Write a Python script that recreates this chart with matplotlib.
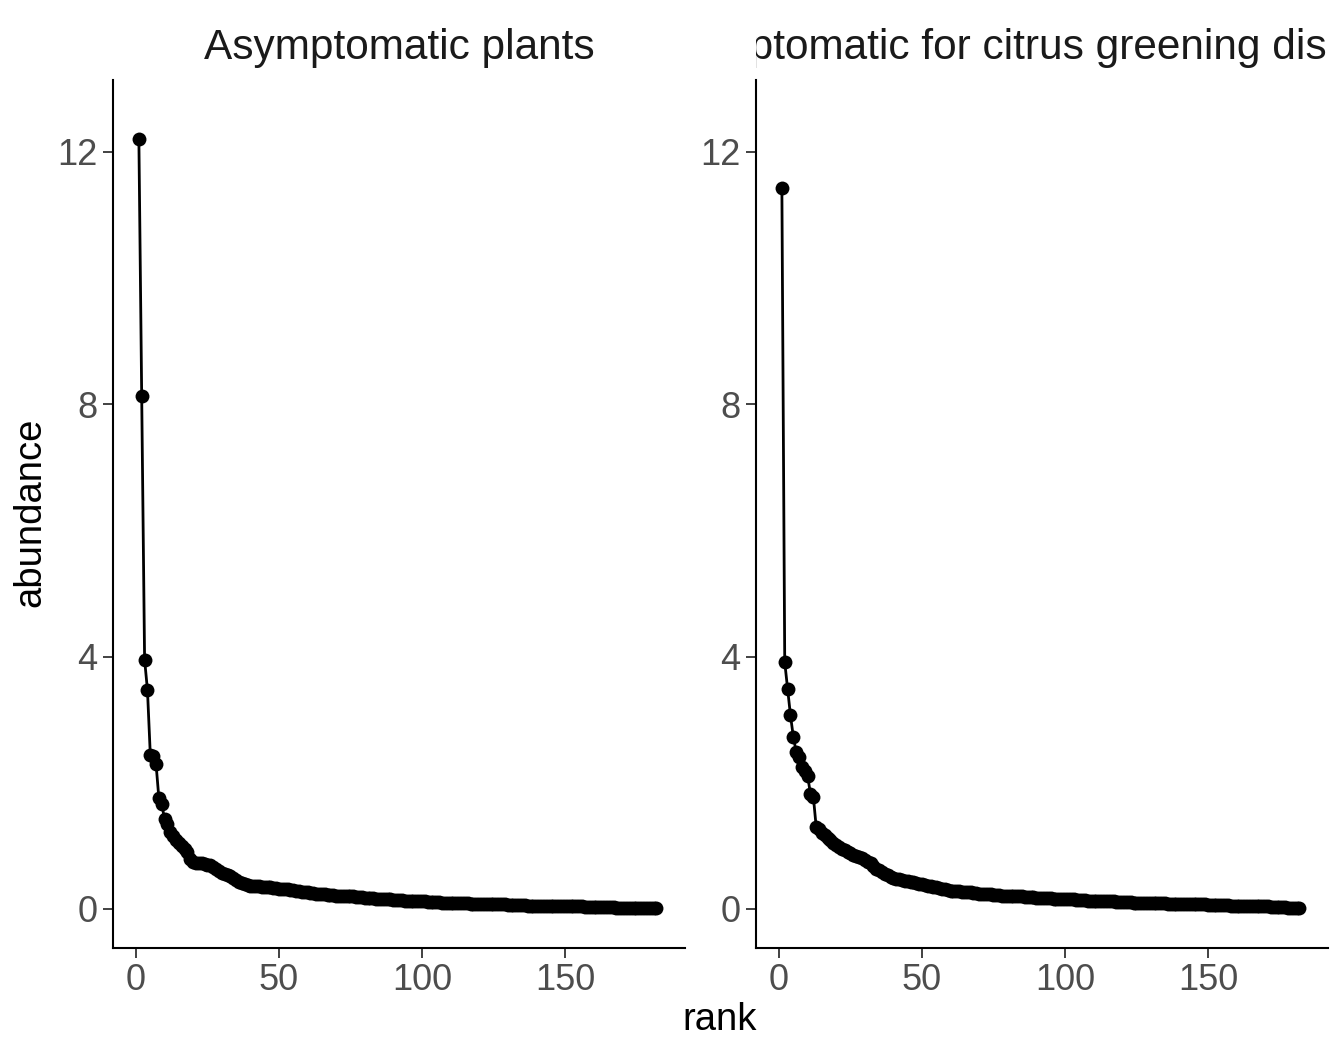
import numpy as np
import matplotlib
matplotlib.use("Agg")
import matplotlib.pyplot as plt

plt.rcParams['font.family'] = ['Liberation Sans', 'DejaVu Sans']

panel_titles = ["Asymptomatic plants", "Symptomatic for citrus greening disease"]

# abundance by rank
asym = [
    12.20, 8.13, 3.95, 3.47, 2.44, 2.42, 2.30, 1.75, 1.66, 1.42,
    1.34, 1.22, 1.16, 1.10, 1.05, 1.00, 0.95, 0.90, 0.79, 0.74,
    0.73, 0.72, 0.72, 0.71, 0.70, 0.69, 0.67, 0.64, 0.60, 0.57,
    0.55, 0.54, 0.52, 0.49, 0.46, 0.43, 0.41, 0.39, 0.38, 0.37,
    0.37, 0.36, 0.36, 0.35, 0.35, 0.34, 0.34, 0.33, 0.33, 0.32,
    0.32, 0.31, 0.31, 0.30, 0.30, 0.29, 0.28, 0.27, 0.27, 0.26,
    0.25, 0.25, 0.24, 0.24, 0.23, 0.23, 0.22, 0.22, 0.22, 0.21,
    0.21, 0.21, 0.20, 0.20, 0.20, 0.20, 0.19, 0.19, 0.19, 0.18,
    0.18, 0.17, 0.17, 0.16, 0.16, 0.16, 0.15, 0.15, 0.15, 0.14,
    0.14, 0.14, 0.14, 0.13, 0.13, 0.13, 0.13, 0.12, 0.12, 0.12,
    0.12, 0.11, 0.11, 0.11, 0.11, 0.11, 0.10, 0.10, 0.10, 0.10,
    0.10, 0.09, 0.09, 0.09, 0.09, 0.09, 0.08, 0.08, 0.08, 0.08,
    0.08, 0.08, 0.07, 0.07, 0.07, 0.07, 0.07, 0.07, 0.07, 0.06,
    0.06, 0.06, 0.06, 0.06, 0.06, 0.06, 0.05, 0.05, 0.05, 0.05,
    0.05, 0.05, 0.05, 0.05, 0.05, 0.04, 0.04, 0.04, 0.04, 0.04,
    0.04, 0.04, 0.04, 0.04, 0.04, 0.04, 0.03, 0.03, 0.03, 0.03,
    0.03, 0.03, 0.03, 0.03, 0.03, 0.03, 0.03, 0.02, 0.02, 0.02,
    0.02, 0.02, 0.02, 0.02, 0.02, 0.02, 0.01, 0.01, 0.01, 0.01,
    0.01, 0.01,
]

sym = [
    11.43, 3.91, 3.49, 3.07, 2.73, 2.49, 2.41, 2.25, 2.19, 2.11,
    1.82, 1.78, 1.30, 1.26, 1.21, 1.17, 1.13, 1.09, 1.05, 1.01,
    0.98, 0.95, 0.93, 0.90, 0.88, 0.86, 0.84, 0.82, 0.80, 0.78,
    0.75, 0.72, 0.68, 0.64, 0.61, 0.58, 0.56, 0.53, 0.51, 0.49,
    0.48, 0.47, 0.46, 0.45, 0.44, 0.43, 0.42, 0.41, 0.40, 0.39,
    0.38, 0.37, 0.36, 0.35, 0.34, 0.33, 0.32, 0.31, 0.30, 0.29,
    0.29, 0.28, 0.28, 0.27, 0.27, 0.26, 0.26, 0.25, 0.25, 0.24,
    0.24, 0.23, 0.23, 0.23, 0.22, 0.22, 0.22, 0.21, 0.21, 0.21,
    0.21, 0.20, 0.20, 0.20, 0.20, 0.19, 0.19, 0.19, 0.19, 0.18,
    0.18, 0.18, 0.17, 0.17, 0.17, 0.16, 0.16, 0.16, 0.16, 0.15,
    0.15, 0.15, 0.15, 0.14, 0.14, 0.14, 0.14, 0.13, 0.13, 0.13,
    0.13, 0.13, 0.12, 0.12, 0.12, 0.12, 0.12, 0.11, 0.11, 0.11,
    0.11, 0.11, 0.11, 0.10, 0.10, 0.10, 0.10, 0.10, 0.10, 0.09,
    0.09, 0.09, 0.09, 0.09, 0.09, 0.08, 0.08, 0.08, 0.08, 0.08,
    0.08, 0.08, 0.07, 0.07, 0.07, 0.07, 0.07, 0.07, 0.07, 0.06,
    0.06, 0.06, 0.06, 0.06, 0.06, 0.06, 0.06, 0.05, 0.05, 0.05,
    0.05, 0.05, 0.05, 0.05, 0.04, 0.04, 0.04, 0.04, 0.04, 0.04,
    0.04, 0.03, 0.03, 0.03, 0.03, 0.03, 0.03, 0.02, 0.02, 0.02,
    0.02, 0.01,
]

x_ticks = [0, 50, 100, 150]
y_ticks = [0, 4, 8, 12]

W, H = 1344, 1056
fig = plt.figure(figsize=(W / 100, H / 100), dpi=100)

panels = [(113, 685), (756, 1328)]
top, bottom = 80, 948

for (x0, x1), title, vals in zip(panels, panel_titles, [asym, sym]):
    ax = fig.add_axes([x0 / W, 1 - bottom / H, (x1 - x0) / W, (bottom - top) / H])
    rank = np.arange(1, len(vals) + 1)
    ax.plot(rank, vals, color='black', lw=2.0, zorder=2)
    ax.scatter(rank, vals, s=100, color='black', zorder=3, linewidths=0)
    ax.set_xlim(-8.05, 192.0)
    ax.set_ylim(-0.62, 13.14)
    ax.set_xticks(x_ticks)
    ax.set_yticks(y_ticks)
    for s in ['top', 'right']:
        ax.spines[s].set_visible(False)
    for s in ['left', 'bottom']:
        ax.spines[s].set_linewidth(1.5)
    ax.tick_params(axis='both', length=7, width=1.3, color='#333333',
                   labelsize=26, labelcolor='#4D4D4D', pad=4)

    # strip-like title area, text clipped to panel width
    tax = fig.add_axes([x0 / W, 1 - top / H, (x1 - x0) / W, top / H])
    tax.set_xlim(0, 1)
    tax.set_ylim(0, 1)
    tax.axis('off')
    tax.text(0.5, 0.40, title, ha='center', va='center', fontsize=30.5,
             color='#1A1A1A', clip_on=True)

fig.text(30 / W, 1 - 512 / H, "abundance", rotation=90, ha='center', va='center',
         fontsize=27.5, color='black')
fig.text(720 / W, 1 - 1020 / H, "rank", ha='center', va='center',
         fontsize=27.5, color='black')

fig.savefig("out.png", dpi=100)
